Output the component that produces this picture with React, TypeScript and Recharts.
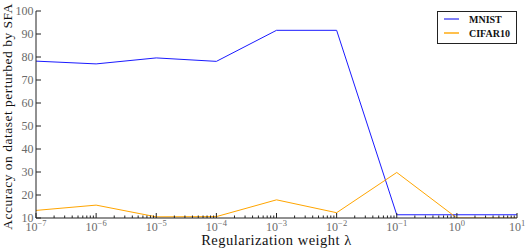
import React from "react";
import { LineChart, Line, XAxis, YAxis } from "recharts";

const lambdaExp = [-7, -6, -5, -4, -3, -2, -1, 0, 1];
const mnistAcc = [78.2, 77.0, 79.6, 78.1, 91.6, 91.6, 11.4, 11.4, 11.4];
const cifarAcc = [13.3, 15.6, 10.5, 10.6, 17.9, 12.3, 29.8, 10.0, 10.0];
const yTicks = [10, 20, 30, 40, 50, 60, 70, 80, 90, 100];

const data = lambdaExp.map((e, i) => ({
  lambda: Math.pow(10, e),
  mnist: mnistAcc[i],
  cifar: cifarAcc[i],
}));

const majorX = lambdaExp.map((e) => Math.pow(10, e));
const minorX: number[] = [];
for (let e = -7; e < 1; e++) {
  for (let k = 2; k <= 9; k++) minorX.push(k * Math.pow(10, e));
}
const allX = [...majorX, ...minorX].sort((a, b) => a - b);

const FONT = "Liberation Serif, DejaVu Serif, serif";
const AXIS = "#222";
const TICKTXT = "#6a6a6a";

const isMajor = (v: number) => {
  const l = Math.log10(v);
  return Math.abs(l - Math.round(l)) < 1e-6;
};

const BottomTick = (props: any) => {
  const { x, y, payload } = props;
  const major = isMajor(payload.value);
  const exp = Math.round(Math.log10(payload.value));
  return (
    <g>
      <line x1={x} x2={x} y1={y} y2={y - (major ? 5 : 2.5)} stroke={AXIS} strokeWidth={1} />
      {major && (
        <text x={x} y={y + 12.5} textAnchor="middle" fill={TICKTXT} style={{ fontFamily: FONT, fontSize: 12 }}>
          10
          <tspan dy={-5} style={{ fontSize: 8.5 }}>
            {exp < 0 ? "\u2212" + Math.abs(exp) : String(exp)}
          </tspan>
        </text>
      )}
    </g>
  );
};

const TopTick = (props: any) => {
  const { x, y, payload } = props;
  const major = isMajor(payload.value);
  return <line x1={x} x2={x} y1={y} y2={y + (major ? 5 : 2.5)} stroke={AXIS} strokeWidth={1} />;
};

const LeftTick = (props: any) => {
  const { x, y, payload } = props;
  return (
    <g>
      <line x1={x} x2={x + 5} y1={y} y2={y} stroke={AXIS} strokeWidth={1} />
      <text x={x - 2.5} y={y + 4} textAnchor="end" fill={TICKTXT} style={{ fontFamily: FONT, fontSize: 12 }}>
        {payload.value}
      </text>
    </g>
  );
};

const RightTick = (props: any) => {
  const { x, y } = props;
  return <line x1={x} x2={x - 5} y1={y} y2={y} stroke={AXIS} strokeWidth={1} />;
};

const LegendBox = () => (
  <svg width={80} height={33} style={{ position: "absolute", left: 437, top: 11, display: "block" }}>
    <rect x={0.5} y={0.5} width={79} height={32} fill="#fff" stroke={AXIS} strokeWidth={1} />
    <line x1={7} x2={22} y1={8} y2={8} stroke="#0000ee" strokeWidth={1} />
    <text x={32} y={11.5} fill="#111" style={{ fontFamily: FONT, fontSize: 10, fontWeight: "bold" }}>
      MNIST
    </text>
    <line x1={7} x2={22} y1={22} y2={22} stroke="#ffc04d" strokeWidth={2} />
    <text x={32} y={25.5} fill="#111" style={{ fontFamily: FONT, fontSize: 10, fontWeight: "bold" }}>
      CIFAR10
    </text>
  </svg>
);

export default function App() {
  return (
    <div style={{ position: "absolute", left: 0, top: 0, width: 526, height: 250, background: "#fff" }}>
      <LineChart width={526} height={250} data={data} margin={{ top: 11, right: 9, bottom: 0, left: 0 }}>
        <XAxis
          dataKey="lambda"
          type="number"
          scale="log"
          domain={[1e-7, 10]}
          ticks={allX}
          interval={0}
          tickSize={0}
          tickMargin={0}
          tickLine={false}
          tick={BottomTick}
          height={32}
          axisLine={{ stroke: AXIS }}
          allowDataOverflow
          label={{
            value: "Regularization weight \u03bb",
            position: "insideBottom",
            offset: 5,
            fill: "#111",
            style: { fontFamily: FONT, fontSize: 14.5, letterSpacing: 0.5 },
          }}
        />
        <XAxis
          xAxisId="top"
          orientation="top"
          dataKey="lambda"
          type="number"
          scale="log"
          domain={[1e-7, 10]}
          ticks={allX}
          interval={0}
          tickSize={0}
          tickMargin={0}
          tickLine={false}
          tick={TopTick}
          height={0}
          axisLine={{ stroke: AXIS }}
          allowDataOverflow
        />
        <YAxis
          type="number"
          domain={[10, 100]}
          ticks={yTicks}
          interval={0}
          tickSize={0}
          tickMargin={0}
          tickLine={false}
          tick={LeftTick}
          width={36}
          axisLine={{ stroke: AXIS }}
          allowDataOverflow
          label={{
            value: "Accuracy on dataset perturbed by SFA",
            angle: -90,
            position: "insideLeft",
            offset: 0,
            dx: 7,
            dy: 2,
            fill: "#111",
            style: { fontFamily: FONT, fontSize: 13.5, letterSpacing: 0.5, textAnchor: "middle" },
          }}
        />
        <YAxis
          yAxisId="right"
          orientation="right"
          type="number"
          domain={[10, 100]}
          ticks={yTicks}
          interval={0}
          tickSize={0}
          tickMargin={0}
          tickLine={false}
          tick={RightTick}
          width={0}
          axisLine={{ stroke: AXIS }}
        />
        <Line dataKey="mnist" stroke="#1a1aff" strokeWidth={1} dot={false} isAnimationActive={false} />
        <Line dataKey="cifar" stroke="#ffa500" strokeWidth={1} dot={false} isAnimationActive={false} />
      </LineChart>
      <LegendBox />
    </div>
  );
}
